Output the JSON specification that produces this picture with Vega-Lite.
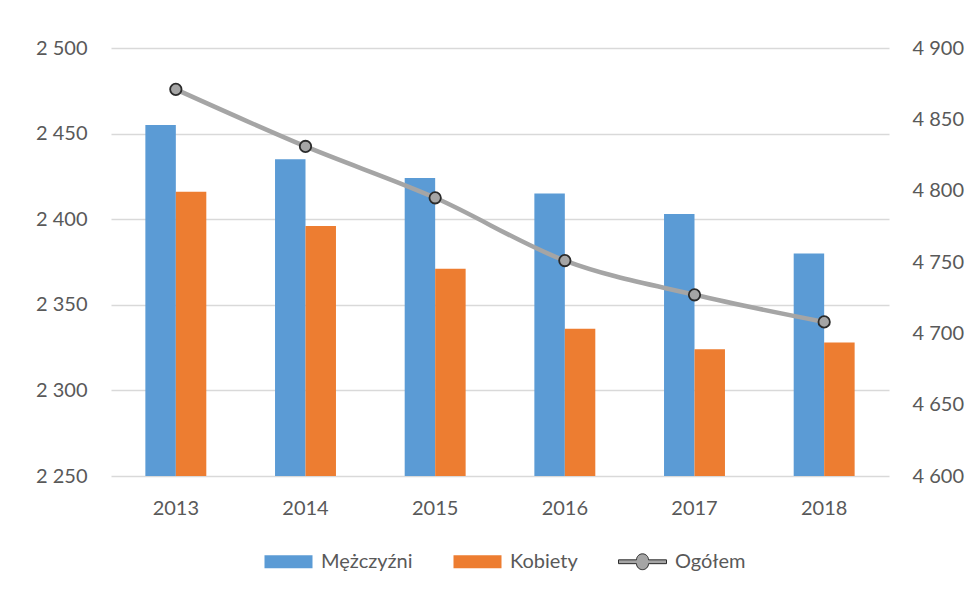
{
  "$schema": "https://vega.github.io/schema/vega-lite/v6.json",
  "width": 778,
  "height": 428,
  "autosize": {"type": "none"},
  "padding": {"left": 111, "top": 48, "right": 82, "bottom": 118},
  "background": "white",
  "config": {
    "view": {"stroke": null},
    "font": "Lato",
    "axis": {"labelFont": "Lato", "labelFontSize": 20, "labelColor": "#595959", "title": null}
  },
  "datasets": {
    "bars": [
      {"year": "2013", "series": "Mężczyźni", "value": 2455},
      {"year": "2013", "series": "Kobiety", "value": 2416},
      {"year": "2014", "series": "Mężczyźni", "value": 2435},
      {"year": "2014", "series": "Kobiety", "value": 2396},
      {"year": "2015", "series": "Mężczyźni", "value": 2424},
      {"year": "2015", "series": "Kobiety", "value": 2371},
      {"year": "2016", "series": "Mężczyźni", "value": 2415},
      {"year": "2016", "series": "Kobiety", "value": 2336},
      {"year": "2017", "series": "Mężczyźni", "value": 2403},
      {"year": "2017", "series": "Kobiety", "value": 2324},
      {"year": "2018", "series": "Mężczyźni", "value": 2380},
      {"year": "2018", "series": "Kobiety", "value": 2328}
    ],
    "tot": [
      {"year": "2013", "value": 4871},
      {"year": "2014", "value": 4831},
      {"year": "2015", "value": 4795},
      {"year": "2016", "value": 4751},
      {"year": "2017", "value": 4727},
      {"year": "2018", "value": 4708}
    ]
  },
  "encoding": {
    "x": {
      "field": "year",
      "type": "nominal",
      "scale": {"paddingInner": 0.53, "paddingOuter": 0.265},
      "axis": {"labelAngle": 0, "domain": false, "ticks": false, "tickSize": 0, "labelPadding": 22, "grid": false}
    }
  },
  "layer": [
    {
      "data": {"name": "bars"},
      "mark": {"type": "bar", "clip": true},
      "encoding": {
        "xOffset": {"field": "series", "type": "nominal", "sort": ["Mężczyźni", "Kobiety"], "scale": {"paddingInner": 0, "paddingOuter": 0}},
        "y": {
          "field": "value",
          "type": "quantitative",
          "scale": {"domain": [2250, 2500], "zero": false, "nice": false},
          "axis": {
            "orient": "left",
            "values": [2250, 2300, 2350, 2400, 2450, 2500],
            "labelExpr": "replace(format(datum.value, ','), ',', ' ')",
            "domain": false, "ticks": false, "tickSize": 0, "labelPadding": 24,
            "grid": true, "gridColor": "#d9d9d9", "gridWidth": 1.3
          }
        },
        "color": {
          "field": "series",
          "type": "nominal",
          "scale": {"domain": ["Mężczyźni", "Kobiety", "Ogółem"], "range": ["#5b9bd5", "#ed7d31", "#a5a5a5"]},
          "legend": {
            "orient": "none",
            "legendX": 153,
            "legendY": 489,
            "direction": "horizontal",
            "title": null,
            "padding": 0,
            "labelFont": "Lato",
            "labelFontSize": 20,
            "labelColor": "#595959",
            "symbolSize": 2304,
            "labelOffset": 8,
            "columnPadding": 38,
            "encode": {
              "symbols": {
                "update": {
                  "shape": {"signal": "datum.value === 'Ogółem' ? 'M-1,-0.08H-0.25A0.25,0.25 0 1 1 0.25,-0.08H1V0.08H0.25A0.25,0.25 0 1 1 -0.25,0.08H-1Z' : 'M-1,-0.27H1V0.27H-1Z'"},
                  "stroke": {"signal": "datum.value === 'Ogółem' ? '#2b2b2b' : 'transparent'"},
                  "strokeWidth": {"value": 1},
                  "opacity": {"value": 1}
                }
              }
            }
          }
        }
      }
    },
    {
      "data": {"name": "tot"},
      "encoding": {
        "y": {
          "field": "value",
          "type": "quantitative",
          "scale": {"domain": [4600, 4900], "zero": false, "nice": false},
          "axis": {
            "orient": "right",
            "values": [4600, 4650, 4700, 4750, 4800, 4850, 4900],
            "labelExpr": "replace(format(datum.value, ','), ',', ' ')",
            "domain": false, "ticks": false, "tickSize": 0, "labelPadding": 23, "grid": false
          }
        }
      },
      "layer": [
        {"mark": {"type": "line", "interpolate": "monotone", "strokeWidth": 4.5, "color": "#a5a5a5"}},
        {"mark": {"type": "point", "filled": true, "fill": "#a5a5a5", "stroke": "#2b2b2b", "strokeWidth": 1.8, "size": 130, "opacity": 1}}
      ]
    }
  ],
  "resolve": {"scale": {"y": "independent"}}
}
